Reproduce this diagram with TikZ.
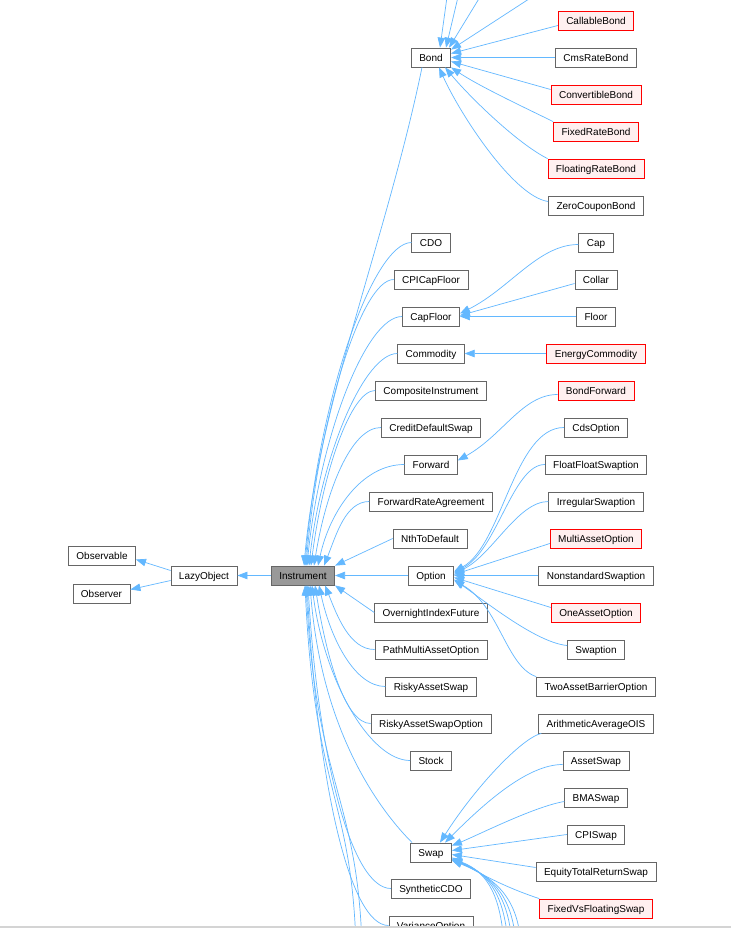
\documentclass[tikz,border=0pt]{standalone}
\usepackage{fontspec}
\setmainfont{Liberation Sans}
\usetikzlibrary{arrows.meta}
\definecolor{edgec}{HTML}{63B8FF}
\definecolor{nodeb}{HTML}{666666}
\definecolor{redb}{HTML}{FF0000}
\definecolor{redf}{HTML}{FFF0F0}
\definecolor{instf}{HTML}{999999}
\definecolor{barc}{HTML}{D4D4D4}
\begin{document}
\begin{tikzpicture}[x=1pt,y=-1pt,
  cls/.style={draw=nodeb, line width=0.8pt, fill=white, font=\fontsize{10}{12}\selectfont,
    inner xsep=8pt, inner ysep=5.9pt, text height=7.2pt, text depth=0pt},
  redcls/.style={cls, draw=redb, fill=redf},
  instcls/.style={cls, fill=instf},
  edge/.style={draw=edgec, line width=0.7pt, -{Triangle[length=10pt,width=7.5pt]}}]
\useasboundingbox (0,0) rectangle (731,928);
\fill[white] (0,0) rectangle (731,928);

% left
\node[cls] (observable) at (102,555.5) {Observable};
\node[cls] (observer) at (101.5,593.5) {Observer};
\node[cls] (lazy) at (204,575.5) {LazyObject};
\node[instcls] (inst) at (303,575.5) {Instrument};

% middle column
\node[cls] (bond) at (431,57.5) {Bond};
\node[cls] (cdo) at (431,242.5) {CDO};
\node[cls] (cpicf) at (431,279.5) {CPICapFloor};
\node[cls] (capfloor) at (431,316.5) {CapFloor};
\node[cls] (commodity) at (431,353.5) {Commodity};
\node[cls] (composite) at (431,390.5) {CompositeInstrument};
\node[cls] (cds) at (431,427.5) {CreditDefaultSwap};
\node[cls] (forward) at (431,464.5) {Forward};
\node[cls] (fra) at (431,501.5) {ForwardRateAgreement};
\node[cls] (nth) at (430,538.5) {NthToDefault};
\node[cls] (option) at (431,575.5) {Option};
\node[cls] (overnight) at (431,612.5) {OvernightIndexFuture};
\node[cls] (pathmulti) at (431,649.5) {PathMultiAssetOption};
\node[cls] (ras) at (431,686.5) {RiskyAssetSwap};
\node[cls] (raso) at (431,723.5) {RiskyAssetSwapOption};
\node[cls] (stock) at (431,760.5) {Stock};
\node[cls] (swap) at (431,852.5) {Swap};
\node[cls] (scdo) at (431,888.5) {SyntheticCDO};
\node[cls] (varopt) at (431,925.5) {VarianceOption};

% right column
\node[redcls] (callable) at (596,20.5) {CallableBond};
\node[cls] (cmsrate) at (596,57.5) {CmsRateBond};
\node[redcls] (convertible) at (596,94.5) {ConvertibleBond};
\node[redcls] (fixedrate) at (596,131.5) {FixedRateBond};
\node[redcls] (floatingrate) at (596,168.5) {FloatingRateBond};
\node[cls] (zerocoupon) at (596,205.5) {ZeroCouponBond};
\node[cls] (cap) at (596,242.5) {Cap};
\node[cls] (collar) at (596,279.5) {Collar};
\node[cls] (floor) at (596,316.5) {Floor};
\node[redcls] (energy) at (596,353.5) {EnergyCommodity};
\node[redcls] (bondfwd) at (596,390.5) {BondForward};
\node[cls] (cdsopt) at (596,427.5) {CdsOption};
\node[cls] (ffswaption) at (596,464.5) {FloatFloatSwaption};
\node[cls] (irregular) at (596,501.5) {IrregularSwaption};
\node[redcls] (multi) at (596,538.5) {MultiAssetOption};
\node[cls] (nonstd) at (596,575.5) {NonstandardSwaption};
\node[redcls] (oneasset) at (596,612.5) {OneAssetOption};
\node[cls] (swaption) at (596,649.5) {Swaption};
\node[cls] (twoasset) at (596,686.5) {TwoAssetBarrierOption};
\node[cls] (aaois) at (596,723.5) {ArithmeticAverageOIS};
\node[cls] (assetswap) at (596,760.5) {AssetSwap};
\node[cls] (bma) at (596,797.5) {BMASwap};
\node[cls] (cpiswap) at (596,834.5) {CPISwap};
\node[cls] (equity) at (596,871.5) {EquityTotalReturnSwap};
\node[redcls] (fvfs) at (596,908.5) {FixedVsFloatingSwap};

% free ends outside the visible area
\coordinate (t1) at (447,-3);
\coordinate (t2) at (458,-3);
\coordinate (t3) at (480,-3);
\coordinate (t4) at (532,-3);
\coordinate (offA) at (362,945);
\coordinate (offB) at (356,945);
\coordinate (b1) at (504,945);
\coordinate (b2) at (508,945);
\coordinate (b3) at (512,945);
\coordinate (b4) at (516,945);
\coordinate (b5) at (521,945);

% left edges
\draw[edge] ([yshift=5pt]lazy.west) -- ([yshift=-4pt]observable.east);
\draw[edge] ([yshift=-5pt]lazy.west) -- ([yshift=4pt]observer.east);
\draw[edge] (inst.west) -- (lazy.east);

% to Instrument from above
\draw[edge] ([xshift=-9pt]bond.south) .. controls +(-35,170) and +(14,-160) .. ([xshift=1pt]inst.north);
\draw[edge] (cdo.west) .. controls +(-38,0) and +(14,-170) .. ([xshift=2pt]inst.north);
\draw[edge] (cpicf.west) .. controls +(-32,0) and +(13,-150) .. ([xshift=3pt]inst.north);
\draw[edge] (capfloor.west) .. controls +(-36,0) and +(13,-130) .. ([xshift=4pt]inst.north);
\draw[edge] (commodity.west) .. controls +(-33,0) and +(12,-110) .. ([xshift=6pt]inst.north);
\draw[edge] (composite.west) .. controls +(-24,0) and +(12,-95) .. ([xshift=8pt]inst.north);
\draw[edge] (cds.west) .. controls +(-30,0) and +(12,-75) .. ([xshift=11pt]inst.north);
\draw[edge] (forward.west) .. controls +(-42,0) and +(12,-55) .. ([xshift=15pt]inst.north);
\draw[edge] (fra.west) .. controls +(-24,0) and +(12,-30) .. ([xshift=21pt]inst.north);
\draw[edge] (nth.west) -- (inst.north east);
\draw[edge] (option.west) -- (inst.east);
\draw[edge] (overnight.west) -- (inst.south east);
% to Instrument from below
\draw[edge] (pathmulti.west) .. controls +(-25,0) and +(12,30) .. ([xshift=22pt]inst.south);
\draw[edge] (ras.west) .. controls +(-30,0) and +(12,55) .. ([xshift=16pt]inst.south);
\draw[edge] (raso.west) .. controls +(-25,0) and +(12,75) .. ([xshift=12pt]inst.south);
\draw[edge] (stock.west) .. controls +(-40,0) and +(12,95) .. ([xshift=9pt]inst.south);
\draw[edge] ([xshift=2pt]swap.north west) .. controls +(-30,-30) and +(12,150) .. ([xshift=7pt]inst.south);
\draw[edge] (scdo.west) .. controls +(-40,0) and +(10,170) .. ([xshift=5pt]inst.south);
\draw[edge] (varopt.west) .. controls +(-40,0) and +(10,190) .. ([xshift=4pt]inst.south);
\draw[edge] (offA) .. controls +(-5,-150) and +(10,200) .. ([xshift=3pt]inst.south);
\draw[edge] (offB) .. controls +(-5,-150) and +(10,210) .. ([xshift=2pt]inst.south);

% Bond children
\draw[edge] (t1) -- ([xshift=9pt]bond.north);
\draw[edge] (t2) -- ([xshift=15pt]bond.north);
\draw[edge] (t3) -- ([xshift=-2pt]bond.north east);
\draw[edge] (t4) -- ([yshift=-2pt]bond.north east);
\draw[edge] ([yshift=-5pt]callable.west) -- ([yshift=4pt]bond.east);
\draw[edge] (cmsrate.west) -- (bond.east);
\draw[edge] ([yshift=5pt]convertible.west) -- ([yshift=-4pt]bond.east);
\draw[edge] (fixedrate.north west) .. controls +(-20,-10) and +(30,20) .. (bond.south east);
\draw[edge] (floatingrate.north west) .. controls +(-30,-15) and +(25,30) .. ([xshift=-6pt]bond.south east);
\draw[edge] ([yshift=4pt]zerocoupon.west) .. controls +(-35,-5) and +(20,45) .. ([xshift=-12pt]bond.south east);

% CapFloor children
\draw[edge] ([yshift=-2pt]cap.west) .. controls +(-40,0) and +(50,-25) .. ([yshift=3pt]capfloor.east);
\draw[edge] ([yshift=-4pt]collar.west) -- ([yshift=1pt]capfloor.east);
\draw[edge] (floor.west) -- (capfloor.east);
% Commodity
\draw[edge] (energy.west) -- (commodity.east);
% Forward
\draw[edge] ([yshift=-4pt]bondfwd.west) .. controls +(-35,0) and +(45,-25) .. ([yshift=4pt]forward.east);

% Option children
\draw[edge] (cdsopt.west) .. controls +(-50,0) and +(48,-26) .. ([yshift=4pt]option.east);
\draw[edge] (ffswaption.west) .. controls +(-32,0) and +(43,-22) .. ([yshift=3pt]option.east);
\draw[edge] (irregular.west) .. controls +(-31,0) and +(38,-18) .. ([yshift=2pt]option.east);
\draw[edge] ([yshift=-5pt]multi.west) -- ([yshift=1pt]option.east);
\draw[edge] (nonstd.west) -- (option.east);
\draw[edge] ([yshift=5pt]oneasset.west) -- ([yshift=-2pt]option.east);
\draw[edge] ([yshift=4pt]swaption.west) .. controls +(-30,-3) and +(35,25) .. ([yshift=-4pt]option.east);
\draw[edge] (twoasset.north west) .. controls +(-30,-10) and +(45,25) .. ([yshift=-5pt]option.east);

% Swap children
\draw[edge] ([xshift=3pt]aaois.south west) .. controls +(-20,5) and +(35,-55) .. ([xshift=9pt]swap.north);
\draw[edge] ([yshift=-4pt]assetswap.west) .. controls +(-35,0) and +(40,-40) .. ([xshift=14pt]swap.north);
\draw[edge] ([yshift=-4pt]bma.west) .. controls +(-30,5) and +(25,-10) .. ([yshift=-3pt]swap.north east);
\draw[edge] (cpiswap.west) -- ([yshift=2pt]swap.east);
\draw[edge] ([yshift=4pt]equity.west) -- ([yshift=-2pt]swap.east);
\draw[edge] (fvfs.north west) .. controls +(-30,-10) and +(35,20) .. ([yshift=-5pt]swap.east);
\draw[edge] (b1) .. controls +(-3,-45) and +(38,14) .. ([yshift=-6pt]swap.east);
\draw[edge] (b2) .. controls +(-3,-45) and +(40,15) .. ([yshift=-6.5pt]swap.east);
\draw[edge] (b3) .. controls +(-3,-45) and +(42,16) .. ([yshift=-7pt]swap.east);
\draw[edge] (b4) .. controls +(-3,-45) and +(44,17) .. ([yshift=-7.5pt]swap.east);
\draw[edge] (b5) .. controls +(-3,-45) and +(46,18) .. ([yshift=-8pt]swap.east);

% bottom bar
\fill[barc] (0,925.5) rectangle (731,928);
\end{tikzpicture}
\end{document}
